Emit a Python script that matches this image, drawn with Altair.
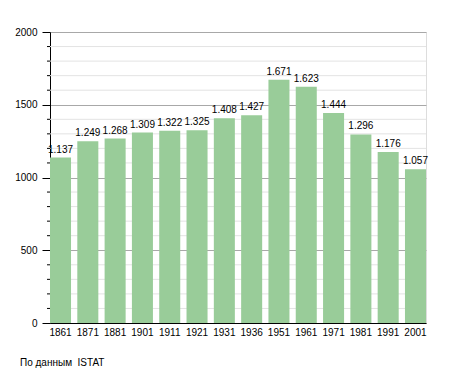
import altair as alt
import pandas as pd

years = ["1861", "1871", "1881", "1901", "1911", "1921", "1931", "1936",
         "1951", "1961", "1971", "1981", "1991", "2001"]
population = [1137, 1249, 1268, 1309, 1322, 1325, 1408, 1427,
              1671, 1623, 1444, 1296, 1176, 1057]
major_ticks = [0, 500, 1000, 1500, 2000]
minor_ticks = [v for v in range(0, 2001, 100) if v % 500 != 0]
source_note = "По данным\u00a0\u00a0ISTAT"

df = pd.DataFrame({
    "year": years,
    "pop": population,
    "label": [f"{v:,}".replace(",", ".") for v in population],
})
minor_df = pd.DataFrame({"v": minor_ticks})

W, H = 376, 291
FONT = "Liberation Sans"
FS = 10

yscale = alt.Scale(domain=[0, 2000], nice=False)
yaxis = alt.Axis(values=major_ticks, format="d", grid=True, gridColor="#a8a8a8",
                 tickSize=8, tickColor="#000000", domainColor="#000000",
                 labelColor="#000000", labelFont=FONT, labelFontSize=FS,
                 labelPadding=5)

minor_grid = alt.Chart(minor_df).mark_rule(color="#e3e3e3", strokeWidth=1).encode(
    y=alt.Y("v:Q", scale=yscale, axis=yaxis, title=None),
    x=alt.value(0), x2=alt.value(W),
)
minor_tick = alt.Chart(minor_df).mark_rule(color="#000000", strokeWidth=1).encode(
    y=alt.Y("v:Q", scale=yscale, axis=yaxis, title=None),
    x=alt.value(-3), x2=alt.value(0),
)

bars = alt.Chart(df).mark_bar(color="#99cc99").encode(
    x=alt.X("year:N", sort=years, title=None,
            scale=alt.Scale(paddingInner=0.23, paddingOuter=0),
            axis=alt.Axis(labelAngle=0, ticks=False, domainColor="#000000",
                          labelColor="#000000", labelFont=FONT, labelFontSize=FS,
                          labelPadding=4, grid=False)),
    y=alt.Y("pop:Q", scale=yscale, title=None, axis=yaxis),
)

labels = alt.Chart(df).mark_text(baseline="bottom", dy=-3, font=FONT, fontSize=FS,
                                 color="#000000").encode(
    x=alt.X("year:N", sort=years),
    y=alt.Y("pop:Q", scale=yscale, axis=yaxis, title=None),
    text="label:N",
)

caption = alt.Chart(pd.DataFrame({"t": [source_note]})).mark_text(
    align="left", baseline="middle", font=FONT, fontSize=FS, color="#000000"
).encode(x=alt.value(-30), y=alt.value(H + 40), text="t:N")

chart = alt.layer(minor_grid, bars, minor_tick, labels, caption).properties(
    width=W, height=H,
    autosize=alt.AutoSizeParams(type="none"),
    padding={"left": 42, "top": 24, "right": 21, "bottom": 50},
).configure_view(stroke=None).configure(background="white")

chart.save("out.html", embed_options={"renderer": "svg", "actions": False})
